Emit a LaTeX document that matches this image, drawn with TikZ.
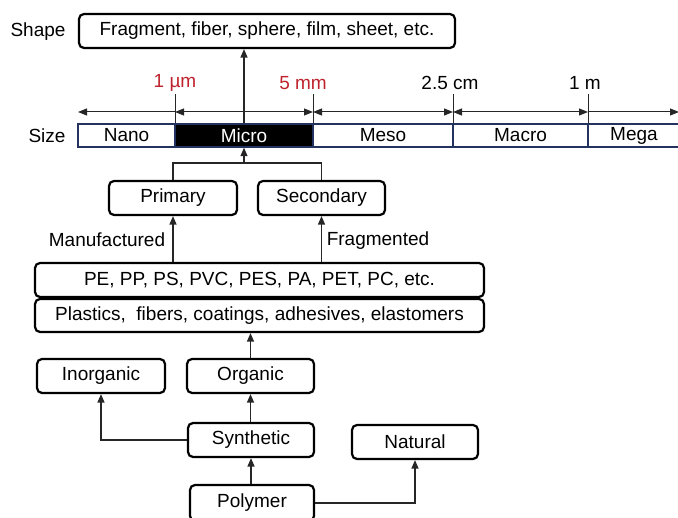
\documentclass[tikz,border=0pt]{standalone}
\usepackage{fontspec}
\setmainfont{Liberation Sans}
\usetikzlibrary{arrows.meta}
\definecolor{redlab}{RGB}{190,35,45}
\definecolor{barc}{RGB}{35,50,95}
\tikzset{
  box/.style={draw=black, line width=2.2pt, rounded corners=5pt, inner sep=0pt,
    minimum height=34pt, font=\fontsize{19}{22}\selectfont},
  cell/.style={draw=barc, line width=1.4pt, inner sep=0pt, minimum height=23pt,
    font=\fontsize{19}{22}\selectfont},
  lab/.style={inner sep=0pt, font=\fontsize{19}{22}\selectfont},
  conn/.style={line width=1.3pt, draw=black!85},
  arr/.style={conn, -{Triangle[length=8.5pt,width=7pt]}},
  dim/.style={line width=1pt, draw=black!85},
  dtip/.tip={Triangle[length=9pt,width=7pt]},
}
\begin{document}
\begin{tikzpicture}[x=1pt,y=-1pt]
\useasboundingbox (0,0) rectangle (678,518);
\clip (0,0) rectangle (678,518);
% shape row
\node[lab] (shapelab) at (38,32) {Shape};
\node[box, minimum width=376pt] (shape) at (267,31) {Fragment, fiber, sphere, film, sheet, etc.};
% size bar
\node[lab] (sizelab) at (47,135.5) {Size};
\node[cell, minimum width=97pt] (nano) at (126.5,135.5) {Nano};
\node[cell, minimum width=138pt, fill=black, text=white] (micro) at (244,135.5) {Micro};
\node[cell, minimum width=140pt] (meso) at (383,135.5) {Meso};
\node[cell, minimum width=135pt] (macro) at (520.5,135.5) {Macro};
\node[cell, minimum width=92pt] (mega) at (634,135.5) {Mega};
% limits
\node[lab, text=redlab] (l1) at (175,83) {1 µm};
\node[lab, text=redlab] (l2) at (303,83) {5 mm};
\node[lab] (l3) at (450,83) {2.5 cm};
\node[lab] (l4) at (585,83) {1 m};
\coordinate (t1) at (175,94);
\coordinate (t2) at (313,94);
\coordinate (t3) at (453,94);
\coordinate (t4) at (588,94);
\coordinate (dl) at (78,112);
\coordinate (dr) at (679,112);
\foreach \t in {t1,t2,t3,t4} \draw[dim] (\t) -- (\t |- nano.north);
\draw[dim, -{dtip}] (t1 |- dl) -- (dl);
\draw[dim, {dtip}-{dtip}] (t1 |- dl) -- (t2 |- dl);
\draw[dim, {dtip}-{dtip}] (t2 |- dl) -- (t3 |- dl);
\draw[dim, {dtip}-{dtip}] (t3 |- dl) -- (t4 |- dl);
\draw[dim, -{dtip}] (t4 |- dl) -- (dr);
\draw[arr] (micro.north) -- (micro.north |- shape.south);
% primary / secondary
\node[box, minimum width=128pt] (primary) at (173,198) {Primary};
\node[box, minimum width=127pt] (secondary) at (321.5,198) {Secondary};
\coordinate (join) at (244,163);
\draw[conn] (primary.north) |- (join) -| (secondary.north);
\draw[arr] (join) -- (micro.south);
\node[lab] (manu) at (107,240) {Manufactured};
\node[lab] (frag) at (378,241) {Fragmented};
% polymers
\node[box, minimum width=449pt] (pe) at (259.5,280) {PE, PP, PS, PVC, PES, PA, PET, PC, etc.};
\node[box, minimum width=449pt, minimum height=33pt] (plastics) at (259.5,315.5) {Plastics,\ \ fibers, coatings, adhesives, elastomers};
\draw[arr] (primary.south |- pe.north) -- (primary.south);
\draw[arr] (secondary.south |- pe.north) -- (secondary.south);
% lower tree
\node[box, minimum width=128pt] (inorganic) at (101,376) {Inorganic};
\node[box, minimum width=127pt] (organic) at (250.5,376) {Organic};
\node[box, minimum width=126pt] (synthetic) at (251,440) {Synthetic};
\node[box, minimum width=126pt] (natural) at (415,442) {Natural};
\node[box, minimum width=124pt, minimum height=36pt] (polymer) at (252,503) {Polymer};
\draw[arr] (organic.north) -- (organic.north |- plastics.south);
\draw[arr] (synthetic.west) -| (inorganic.south);
\draw[arr] (synthetic.north -| organic.south) -- (organic.south);
\draw[arr] (polymer.north -| synthetic.south) -- (synthetic.south);
\draw[arr] (polymer.east) -| (natural.south);
\end{tikzpicture}
\end{document}
